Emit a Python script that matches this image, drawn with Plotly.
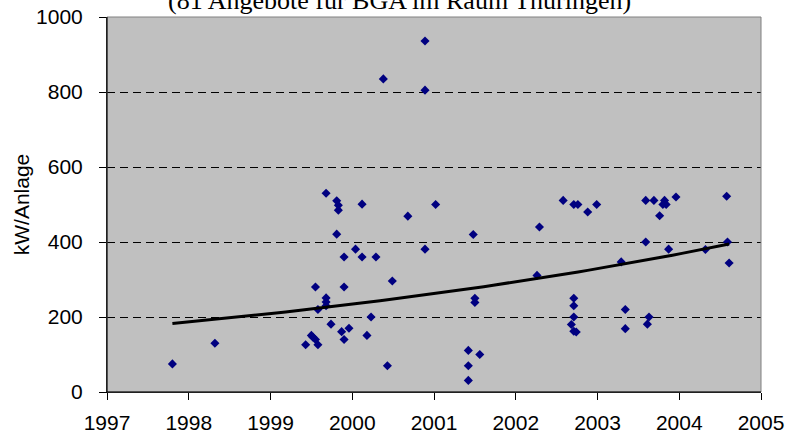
import numpy as np
import plotly.graph_objects as go

# Data (year, kW per plant)
years = [
    1997.80, 1998.32,
    1999.68, 1999.81, 1999.83, 1999.83, 2000.12, 1999.81, 2000.04, 1999.90, 2000.12, 2000.29,
    2000.49, 1999.55, 1999.90, 1999.68, 1999.68, 1999.68, 1999.58, 2000.23, 1999.74, 1999.96,
    1999.87, 2000.18, 1999.50, 1999.52, 1999.55, 1999.90, 1999.43, 1999.58,
    2000.38, 2000.89, 2000.89, 2000.68, 2001.02, 2000.89, 2001.48, 2001.50, 2001.50, 2001.42,
    2001.56, 2001.42, 2001.42, 2000.43,
    2002.29, 2002.26,
    2002.58, 2002.71, 2002.76, 2002.88, 2002.99, 2002.71, 2002.71, 2002.71, 2002.68, 2002.71, 2002.74,
    2003.34, 2003.34, 2003.63, 2003.61, 2003.29, 2003.59, 2003.59, 2003.69, 2003.82, 2003.80,
    2003.84, 2003.76, 2003.96, 2003.87, 2004.32, 2004.58, 2004.59, 2004.61,
]
kw = [
    75, 130,
    530, 510, 498, 485, 501, 421, 381, 360, 360, 360,
    296, 280, 280, 251, 240, 230, 220, 200, 181, 170,
    161, 151, 151, 146, 140, 140, 126, 126,
    835, 936, 805, 469, 500, 381, 420, 250, 239, 111,
    100, 70, 31, 70,
    440, 311,
    511, 500, 500, 480, 500, 250, 230, 200, 180, 162, 160,
    220, 169, 200, 181, 347, 400, 511, 511, 511, 500,
    500, 470, 520, 381, 380, 522, 400, 344,
]

x_ticks = [1997, 1998, 1999, 2000, 2001, 2002, 2003, 2004, 2005]
y_ticks = [0, 200, 400, 600, 800, 1000]
title_text = "(81 Angebote für BGA im Raum Thüringen)"
y_title = "kW/Anlage"

# Exponential trendline (least squares on ln y), like Excel
xa = np.array(years)
ya = np.array(kw, dtype=float)
b, lna = np.polyfit(xa - 1997, np.log(ya), 1)
tx = np.linspace(xa.min(), xa.max(), 60)
ty = np.exp(lna + b * (tx - 1997))

fig = go.Figure()
fig.add_trace(go.Scatter(
    x=years, y=kw, mode="markers",
    marker=dict(symbol="diamond", size=7, color="#000080", line=dict(width=0)),
    showlegend=False, hoverinfo="skip"))
fig.add_trace(go.Scatter(
    x=tx, y=ty, mode="lines", line=dict(color="black", width=3),
    showlegend=False, hoverinfo="skip"))

font = "Liberation Sans, Arial, sans-serif"
fig.update_layout(
    width=788, height=436,
    margin=dict(l=107, r=27, t=17, b=44, pad=0),
    paper_bgcolor="white", plot_bgcolor="#C0C0C0",
    font=dict(family=font, size=21, color="black"),
    xaxis=dict(range=[1997, 2005], tickvals=x_ticks, ticktext=[str(v) for v in x_ticks],
               showgrid=False, zeroline=False, showline=True, linecolor="black", linewidth=1,
               ticks="outside", ticklen=7, tickcolor="black", tickfont=dict(size=21),
               ticklabelstandoff=5, automargin=False),
    yaxis=dict(range=[0, 1000], tickvals=y_ticks, ticktext=[str(v) for v in y_ticks],
               showgrid=True, gridcolor="black", gridwidth=1, griddash="8px,5px",
               zeroline=False, showline=True, linecolor="black", linewidth=1,
               ticks="outside", ticklen=7, tickcolor="black", tickfont=dict(size=21),
               ticklabelstandoff=12, automargin=False,
               title=dict(text=y_title, font=dict(size=21), standoff=0)),
)
# gray border on top/right of plot area
fig.add_shape(type="rect", xref="paper", yref="paper", x0=0, y0=0, x1=1, y1=1,
              line=dict(color="#808080", width=1), fillcolor="rgba(0,0,0,0)", layer="above")
fig.add_shape(type="line", xref="paper", yref="paper", x0=0, y0=0, x1=0, y1=1,
              line=dict(color="black", width=1), layer="above")
fig.add_shape(type="line", xref="paper", yref="paper", x0=0, y0=0, x1=1, y1=0,
              line=dict(color="black", width=1), layer="above")
fig.add_annotation(text=title_text, xref="paper", yref="paper", x=0.448, y=1,
                   xanchor="center", yanchor="bottom", showarrow=False,
                   font=dict(family="Liberation Serif, Times New Roman, serif", size=26, color="black"))

fig.write_html("out.html", config={"displayModeBar": False},
               post_script="document.body.style.margin='0px';")
